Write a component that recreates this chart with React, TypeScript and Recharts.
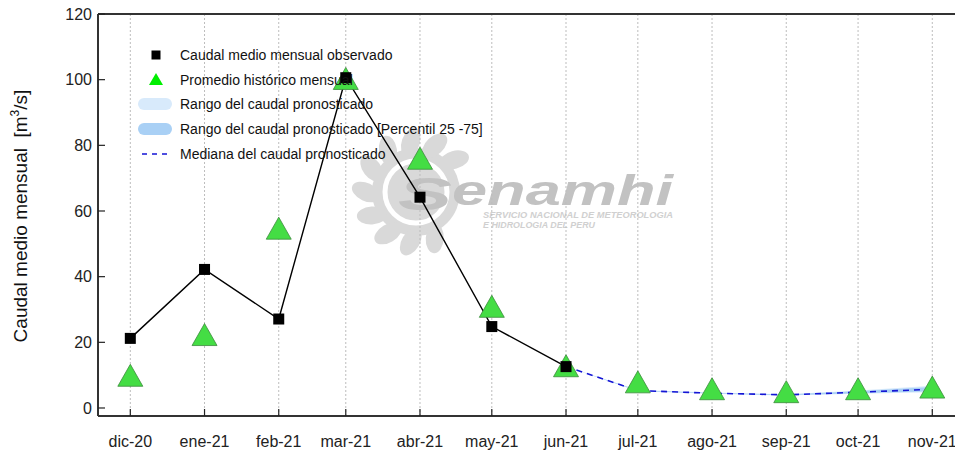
import React from "react";
import { ComposedChart, Line, Area, XAxis, YAxis, CartesianGrid, ReferenceLine, Legend } from "recharts";

// months and their day offset from 1 dic 2020 (axis is date based)
const months = ["dic-20", "ene-21", "feb-21", "mar-21", "abr-21", "may-21", "jun-21", "jul-21", "ago-21", "sep-21", "oct-21", "nov-21"];
const monthDays = [0, 31, 62, 90, 121, 151, 182, 212, 243, 274, 304, 335];

const observed = [21.2, 42.2, 27.1, 100.6, 64.2, 24.8, 12.6, null, null, null, null, null];
const historical = [8.9, 21.3, 53.7, 99.3, 75.0, 29.9, 11.8, 6.9, 4.8, 3.9, 4.8, 5.3];
const forecastMedian = [null, null, null, null, null, null, 12.6, 5.3, 4.5, 4.0, 4.8, 5.7];
const forecastMin = [null, null, null, null, null, null, 12.6, 5.1, 4.3, 3.8, 4.3, 4.8];
const forecastMax = [null, null, null, null, null, null, 12.6, 5.5, 4.7, 4.2, 5.3, 6.8];
const forecastP25 = [null, null, null, null, null, null, 12.6, 5.2, 4.4, 3.9, 4.5, 5.1];
const forecastP75 = [null, null, null, null, null, null, 12.6, 5.4, 4.6, 4.1, 5.1, 6.4];

const yTicks = [0, 20, 40, 60, 80, 100, 120];

const data = months.map((m, i) => ({
  day: monthDays[i],
  label: m,
  obs: observed[i],
  hist: historical[i],
  med: forecastMedian[i],
  range: forecastMin[i] != null ? [forecastMin[i], forecastMax[i]] : null,
  iqr: forecastP25[i] != null ? [forecastP25[i], forecastP75[i]] : null,
}));

const FONT = "'Liberation Sans', Arial, sans-serif";

function SquareDot(props: any) {
  const { cx, cy, index } = props;
  if (cx == null || cy == null) return <g key={`s${index}`} />;
  return <rect key={`s${index}`} x={cx - 5.5} y={cy - 5.5} width={11} height={11} fill="#000" />;
}

function TriangleDot(props: any) {
  const { cx, cy, index } = props;
  if (cx == null || cy == null) return <g key={`t${index}`} />;
  const pts = `${cx},${cy - 14.5} ${cx - 12.5},${cy + 7.5} ${cx + 12.5},${cy + 7.5}`;
  return <polygon key={`t${index}`} points={pts} fill="#44dd44" stroke="#3c8a3c" strokeWidth={0.8} />;
}

function YTitle() {
  return (
    <text
      transform="translate(27,216) rotate(-90)"
      textAnchor="middle"
      fontSize={19}
      fill="#111"
      style={{ whiteSpace: "pre" }}
    >
      <tspan>{"Caudal medio mensual  [m"}</tspan>
      <tspan fontSize={12} dy={-8}>3</tspan>
      <tspan dy={8}>{"/s]"}</tspan>
    </text>
  );
}

function LegendBox() {
  const rows = [55, 80, 104, 129, 154].map((y) => y - 40);
  const tx = 50;
  return (
    <svg width={420} height={130} style={{ fontFamily: FONT }}>
      <rect x={21.5} y={rows[0] - 4.5} width={9} height={9} fill="#000" />
      <polygon points={`26,${rows[1] - 7} 19,${rows[1] + 5} 33,${rows[1] + 5}`} fill="#00ee00" />
      <rect x={8} y={rows[2] - 6} width={34} height={12} rx={6} fill="#d8eafb" />
      <rect x={8} y={rows[3] - 6} width={34} height={12} rx={6} fill="#a9d0f5" />
      <line x1={12} x2={40} y1={rows[4]} y2={rows[4]} stroke="#1515d5" strokeWidth={1.5} strokeDasharray="5 5" />
      {[
        "Caudal medio mensual observado",
        "Promedio histórico mensual",
        "Rango del caudal pronosticado",
        "Rango del caudal pronosticado [Percentil 25 -75]",
        "Mediana del caudal pronosticado",
      ].map((t, i) => (
        <text key={t} x={tx} y={rows[i] + 5} fontSize={14} fill="#111">
          {t}
        </text>
      ))}
    </svg>
  );
}

function Watermark() {
  const cx = 416;
  const cy = 192;
  const petals = [-40, -68, -96, -124, -152, -180, 152, 124, 96, 68];
  const gray = "#d9d9d9";
  return (
    <svg width={955} height={458} style={{ position: "absolute", left: 0, top: 0 }}>
      <circle cx={cx} cy={cy} r={44} fill={gray} />
      {petals.map((a) => {
        const r = (a * Math.PI) / 180;
        const px = cx + Math.cos(r) * 50;
        const py = cy + Math.sin(r) * 50;
        return (
          <ellipse
            key={a}
            cx={px}
            cy={py}
            rx={15}
            ry={9}
            fill={gray}
            transform={`rotate(${a + 25} ${px} ${py})`}
          />
        );
      })}
      <circle cx={cx} cy={cy} r={31} fill="none" stroke="#fff" strokeWidth={5} />
      <text
        x={398}
        y={210}
        fontSize={46}
        fontWeight="bold"
        fontStyle="italic"
        fill="#c2c2c2"
        fontFamily={FONT}
        textLength={54}
        lengthAdjust="spacingAndGlyphs"
      >
        S
      </text>
      <text
        x={452}
        y={205}
        fontSize={42}
        fontWeight="bold"
        fontStyle="italic"
        fill="#c2c2c2"
        fontFamily={FONT}
        textLength={221}
        lengthAdjust="spacingAndGlyphs"
      >
        enamhi
      </text>
      <text x={483} y={218} fontSize={8.5} fontWeight="bold" fontStyle="italic" fill="#d0d0d0" fontFamily={FONT} textLength={190} lengthAdjust="spacingAndGlyphs">
        SERVICIO NACIONAL DE METEOROLOGIA
      </text>
      <text x={483} y={228} fontSize={8.5} fontWeight="bold" fontStyle="italic" fill="#d0d0d0" fontFamily={FONT} textLength={112} lengthAdjust="spacingAndGlyphs">
        E HIDROLOGIA DEL PERU
      </text>
    </svg>
  );
}

export default function App() {
  return (
    <div
      style={{
        position: "fixed",
        left: 0,
        top: 0,
        width: 955,
        height: 458,
        overflow: "hidden",
        background: "#fff",
        fontFamily: FONT,
      }}
    >
      <Watermark />
      <div style={{ position: "absolute", left: 0, top: 0 }}>
        <ComposedChart width={980} height={458} data={data} margin={{ top: 14, right: 13, bottom: 0, left: 0 }}>
          <CartesianGrid vertical horizontal={false} stroke="#bdbdbd" strokeDasharray="2 2" />
          <XAxis
            dataKey="day"
            type="number"
            domain={[-13.5, 349.5]}
            ticks={monthDays}
            interval={0}
            allowDataOverflow
            tickFormatter={(d: number) => months[monthDays.indexOf(d)]}
            height={42}
            tickSize={-7}
            tickMargin={27}
            axisLine={{ stroke: "#333", strokeWidth: 2 }}
            tickLine={{ stroke: "#222", strokeWidth: 1.2 }}
            tick={{ fontSize: 16, fill: "#222" }}
          />
          <YAxis
            type="number"
            domain={[-2.44, 120]}
            ticks={yTicks}
            interval={0}
            allowDataOverflow
            width={98}
            tickSize={-7}
            tickMargin={13}
            axisLine={{ stroke: "#333", strokeWidth: 2 }}
            tickLine={{ stroke: "#222", strokeWidth: 1.2 }}
            tick={{ fontSize: 16, fill: "#222" }}
            label={<YTitle />}
          />
          <ReferenceLine y={120} stroke="#333" strokeWidth={2} />
          <Area dataKey="range" type="linear" stroke="none" fill="#d8eafb" fillOpacity={1} isAnimationActive={false} />
          <Area dataKey="iqr" type="linear" stroke="none" fill="#a9d0f5" fillOpacity={1} isAnimationActive={false} />
          <Line dataKey="hist" type="linear" stroke="none" dot={TriangleDot} activeDot={false} isAnimationActive={false} />
          <Line
            dataKey="med"
            type="linear"
            stroke="#1515d5"
            strokeWidth={1.6}
            strokeDasharray="6 5"
            dot={false}
            activeDot={false}
            isAnimationActive={false}
          />
          <Line
            dataKey="obs"
            type="linear"
            stroke="#000"
            strokeWidth={1.4}
            dot={SquareDot}
            activeDot={false}
            isAnimationActive={false}
          />
          <Legend
            layout="horizontal"
            verticalAlign="middle"
            content={() => <LegendBox />}
            wrapperStyle={{ top: 40, left: 130, width: 420, height: 130 }}
          />
        </ComposedChart>
      </div>
    </div>
  );
}
